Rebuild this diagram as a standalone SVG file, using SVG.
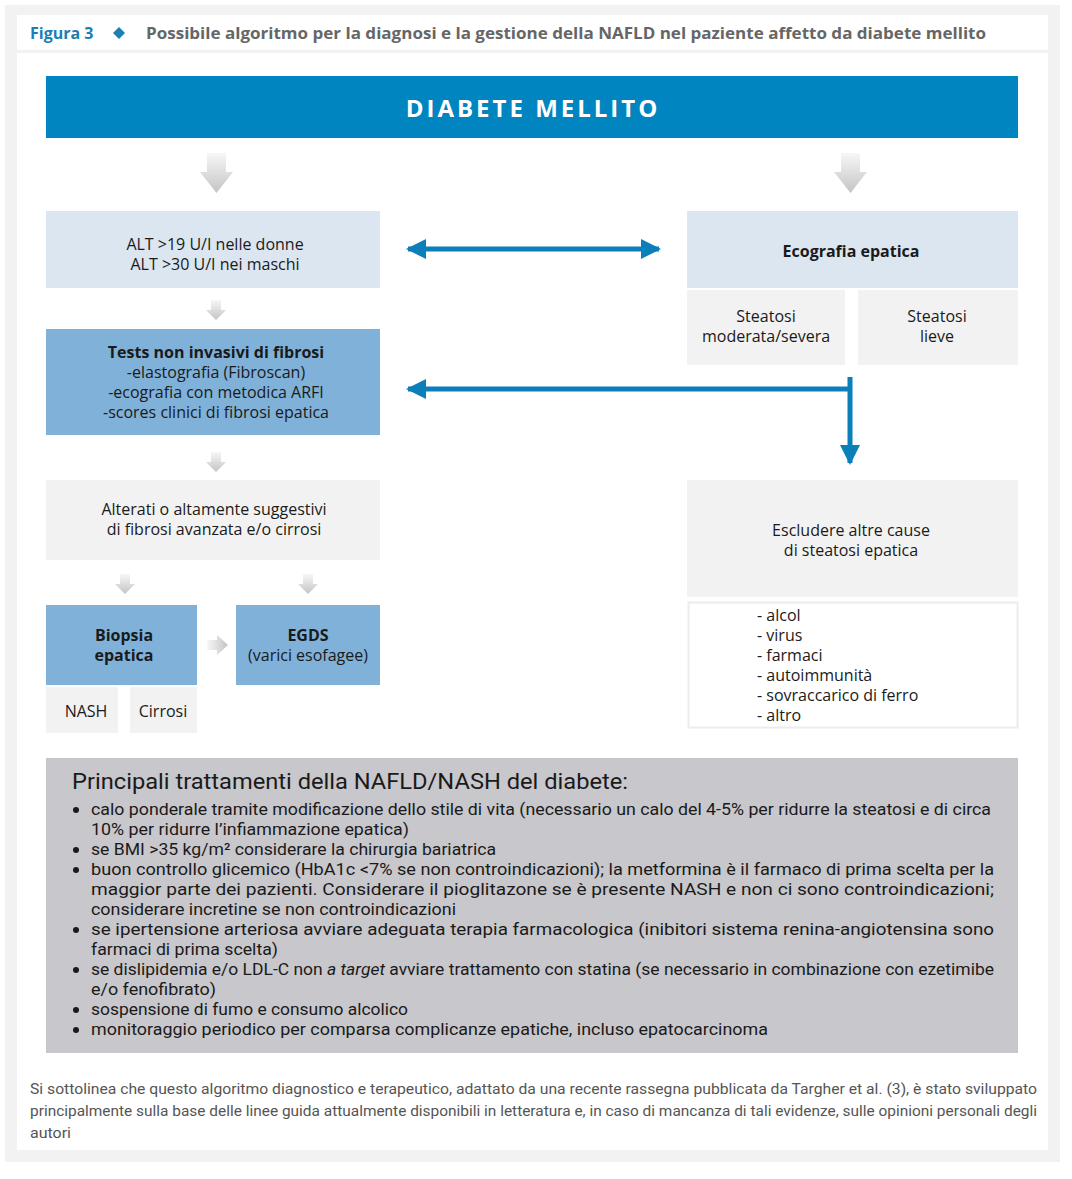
<svg xmlns="http://www.w3.org/2000/svg" width="1072" height="1179" viewBox="0 0 1072 1179">
<defs>
<linearGradient id="gv" x1="0" y1="0" x2="0" y2="1"><stop offset="0" stop-color="#f7f7f7"/><stop offset="1" stop-color="#c4c4c4"/></linearGradient>
<linearGradient id="gh" x1="0" y1="0" x2="1" y2="0"><stop offset="0" stop-color="#f7f7f7"/><stop offset="1" stop-color="#c4c4c4"/></linearGradient>
<marker id="ah" viewBox="0 0 10 10" refX="9" refY="5" markerWidth="4" markerHeight="5.4" orient="auto-start-reverse" markerUnits="strokeWidth"><path d="M0,0 L10,5 L0,10 Z" fill="#0a7fba"/></marker>
<style>
.t{font-family:"Open Sans","Noto Sans",sans-serif;font-size:16px;fill:#1a1a1a;text-anchor:middle}
.b{font-weight:bold}
.li{font-family:"Open Sans","Noto Sans",sans-serif;font-size:16px;fill:#1a1a1a}
.tr{font-family:"Liberation Sans Narrow","Roboto","Liberation Sans",sans-serif;font-size:16.5px;fill:#1a1a1a}
.fn{font-family:"Liberation Sans Narrow","Roboto","Liberation Sans",sans-serif;font-size:14px;fill:#555}
.lb{fill:#dce6f1}.mb{fill:#80b1d9}.gy{fill:#f2f2f2}
.conn{stroke:#0a7fba;stroke-width:5;fill:none}
</style>
</defs>
<rect x="5" y="5" width="1055" height="1157" fill="#f2f2f2"/>
<rect x="17" y="15" width="1031" height="35" fill="#ffffff"/>
<rect x="17" y="53" width="1031" height="1097" fill="#ffffff"/>
<g id="header">
<text x="30" y="39" font-family="Open Sans,Noto Sans,sans-serif" font-size="16" font-weight="bold" fill="#1a7fb5">Figura 3</text>
<path d="M119,27 L125,33 L119,39 L113,33 Z" fill="#1a7fb5"/>
<text x="146" y="39" font-family="Open Sans,Noto Sans,sans-serif" font-size="16" font-weight="bold" fill="#666" textLength="840" lengthAdjust="spacingAndGlyphs">Possibile algoritmo per la diagnosi e la gestione della NAFLD nel paziente affetto da diabete mellito</text>
</g>
<g id="diabete">
<rect x="46" y="76" width="972" height="62" fill="#0085c0"/>
<text x="533" y="117" font-family="Open Sans,Noto Sans,sans-serif" font-size="24" font-weight="bold" fill="#ffffff" text-anchor="middle" letter-spacing="3">DIABETE MELLITO</text>
</g>
<g id="gray-arrows">
<path d="M207,153 H226 V172 H233 L216.5,193 L200,172 H207 Z" fill="url(#gv)"/>
<path d="M841,153 H860 V172 H867 L850.5,193 L834,172 H841 Z" fill="url(#gv)"/>
<path d="M211,300 H221 V310 H226 L216,320 L206,310 H211 Z" fill="url(#gv)"/>
<path d="M211,452 H221 V462 H226 L216,472 L206,462 H211 Z" fill="url(#gv)"/>
<path d="M120,574 H130 V584 H135 L125,594 L115,584 H120 Z" fill="url(#gv)"/>
<path d="M303,574 H313 V584 H318 L308,594 L298,584 H303 Z" fill="url(#gv)"/>
<path d="M207,640 H217 V635 L228,645 L217,655 V650 H207 Z" fill="url(#gh)"/>
</g>
<g id="alt">
<rect x="46" y="211" width="334" height="77" class="lb"/>
<text class="t" x="215" y="250">ALT &gt;19 U/I nelle donne</text>
<text class="t" x="215" y="270">ALT &gt;30 U/I nei maschi</text>
</g>
<g id="ecografia">
<rect x="687" y="211" width="331" height="77" class="lb"/>
<text class="t b" x="851" y="257">Ecografia epatica</text>
</g>
<g id="steatosi-mod">
<rect x="687" y="290" width="158" height="75" class="gy"/>
<text class="t" x="766" y="322">Steatosi</text>
<text class="t" x="766" y="342">moderata/severa</text>
</g>
<g id="steatosi-lieve">
<rect x="858" y="290" width="160" height="75" class="gy"/>
<text class="t" x="937" y="322">Steatosi</text>
<text class="t" x="937" y="342">lieve</text>
</g>
<g id="tests">
<rect x="46" y="329" width="334" height="106" class="mb"/>
<text class="t b" x="216" y="358">Tests non invasivi di fibrosi</text>
<text class="t" x="216" y="378">-elastografia (Fibroscan)</text>
<text class="t" x="216" y="398">-ecografia con metodica ARFI</text>
<text class="t" x="216" y="418">-scores clinici di fibrosi epatica</text>
</g>
<g id="alterati">
<rect x="46" y="480" width="334" height="80" class="gy"/>
<text class="t" x="214" y="515">Alterati o altamente suggestivi</text>
<text class="t" x="214" y="535">di fibrosi avanzata e/o cirrosi</text>
</g>
<g id="biopsia">
<rect x="46" y="605" width="151" height="80" class="mb"/>
<text class="t b" x="124" y="641">Biopsia</text>
<text class="t b" x="124" y="661">epatica</text>
</g>
<g id="egds">
<rect x="236" y="605" width="144" height="80" class="mb"/>
<text class="t b" x="308" y="641">EGDS</text>
<text class="t" x="308" y="661">(varici esofagee)</text>
</g>
<g id="nash">
<rect x="46" y="687" width="72" height="46" class="gy"/>
<text class="t" x="86" y="717">NASH</text>
</g>
<g id="cirrosi">
<rect x="130" y="687" width="67" height="46" class="gy"/>
<text class="t" x="163" y="717">Cirrosi</text>
</g>
<g id="escludere">
<rect x="687" y="480" width="331" height="117" class="gy"/>
<text class="t" x="851" y="536">Escludere altre cause</text>
<text class="t" x="851" y="556">di steatosi epatica</text>
</g>
<g id="cause">
<rect x="688.5" y="602.5" width="329" height="125" fill="#ffffff" stroke="#ececec" stroke-width="2"/>
<text class="li" x="757" y="621">- alcol</text>
<text class="li" x="757" y="641">- virus</text>
<text class="li" x="757" y="661">- farmaci</text>
<text class="li" x="757" y="681">- autoimmunità</text>
<text class="li" x="757" y="701">- sovraccarico di ferro</text>
<text class="li" x="757" y="721">- altro</text>
</g>
<g id="connectors">
<line class="conn" x1="408" y1="249" x2="659" y2="249" marker-start="url(#ah)" marker-end="url(#ah)"/>
<line class="conn" x1="850" y1="389" x2="408" y2="389" marker-end="url(#ah)"/>
<line class="conn" x1="850" y1="377" x2="850" y2="463" marker-end="url(#ah)"/>
</g>
<g id="trattamenti">
<rect x="46" y="758" width="972" height="295" fill="#c8c7cb"/>
<text x="72" y="789" font-family="Roboto,'Liberation Sans',sans-serif" font-size="22" fill="#1a1a1a" textLength="556" lengthAdjust="spacingAndGlyphs">Principali trattamenti della NAFLD/NASH del diabete:</text>
<g fill="#1a1a1a">
<circle cx="76" cy="810" r="3"/><circle cx="76" cy="850" r="3"/><circle cx="76" cy="870" r="3"/><circle cx="76" cy="930" r="3"/><circle cx="76" cy="970" r="3"/><circle cx="76" cy="1010" r="3"/><circle cx="76" cy="1030" r="3"/>
</g>
<text class="tr" x="91" y="815" textLength="900" lengthAdjust="spacingAndGlyphs">calo ponderale tramite modificazione dello stile di vita (necessario un calo del 4-5% per ridurre la steatosi e di circa</text>
<text class="tr" x="91" y="835" textLength="318" lengthAdjust="spacingAndGlyphs">10% per ridurre l’infiammazione epatica)</text>
<text class="tr" x="91" y="855" textLength="405" lengthAdjust="spacingAndGlyphs">se BMI &gt;35 kg/m² considerare la chirurgia bariatrica</text>
<text class="tr" x="91" y="875" textLength="903" lengthAdjust="spacingAndGlyphs">buon controllo glicemico (HbA1c &lt;7% se non controindicazioni); la metformina è il farmaco di prima scelta per la</text>
<text class="tr" x="91" y="895" textLength="903" lengthAdjust="spacingAndGlyphs">maggior parte dei pazienti. Considerare il pioglitazone se è presente NASH e non ci sono controindicazioni;</text>
<text class="tr" x="91" y="915" textLength="365" lengthAdjust="spacingAndGlyphs">considerare incretine se non controindicazioni</text>
<text class="tr" x="91" y="935" textLength="903" lengthAdjust="spacingAndGlyphs">se ipertensione arteriosa avviare adeguata terapia farmacologica (inibitori sistema renina-angiotensina sono</text>
<text class="tr" x="91" y="955" textLength="187" lengthAdjust="spacingAndGlyphs">farmaci di prima scelta)</text>
<text class="tr" x="91" y="975" textLength="903" lengthAdjust="spacingAndGlyphs">se dislipidemia e/o LDL-C non <tspan font-style="italic">a target</tspan> avviare trattamento con statina (se necessario in combinazione con ezetimibe</text>
<text class="tr" x="91" y="995" textLength="125" lengthAdjust="spacingAndGlyphs">e/o fenofibrato)</text>
<text class="tr" x="91" y="1015" textLength="317" lengthAdjust="spacingAndGlyphs">sospensione di fumo e consumo alcolico</text>
<text class="tr" x="91" y="1035" textLength="677" lengthAdjust="spacingAndGlyphs">monitoraggio periodico per comparsa complicanze epatiche, incluso epatocarcinoma</text>
</g>
<g id="nota">
<text class="fn" x="30" y="1094" textLength="1007" lengthAdjust="spacingAndGlyphs">Si sottolinea che questo algoritmo diagnostico e terapeutico, adattato da una recente rassegna pubblicata da Targher et al. (3), è stato sviluppato</text>
<text class="fn" x="30" y="1116" textLength="1007" lengthAdjust="spacingAndGlyphs">principalmente sulla base delle linee guida attualmente disponibili in letteratura e, in caso di mancanza di tali evidenze, sulle opinioni personali degli</text>
<text class="fn" x="30" y="1138" textLength="41" lengthAdjust="spacingAndGlyphs">autori</text>
</g>
</svg>
